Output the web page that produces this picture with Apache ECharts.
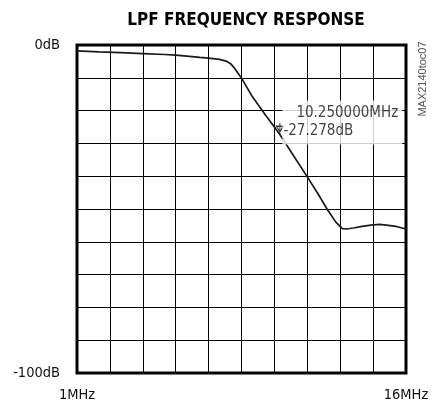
<!DOCTYPE html>
<html>
<head>
	<meta charset="UTF-8">
	<title>LPF FREQUENCY RESPONSE</title>
	<script type="text/javascript" src="https://cdn.jsdelivr.net/npm/echarts@6/dist/echarts.min.js"></script>
	<style>
		html, body { margin: 0; padding: 0; background: #fff; }
		#chart { width: 432px; height: 405px; }
	</style>
</head>
<body>
<div id="chart"></div>
<script>
// 频率 (MHz) 和增益 (dB)
var freqMHz = [1.0, 2.0, 3.0, 4.0, 5.0, 5.5, 6.0, 6.6, 7.0, 7.5, 7.8, 8.0, 8.15, 8.3, 8.5,
	9.0, 9.6, 10.25, 10.8, 11.5, 12.0, 12.4, 12.8, 13.1, 13.3, 13.6, 14.0, 14.4, 14.8, 15.2, 15.6, 16.0];
var gainDb = [-1.8, -2.1, -2.3, -2.6, -2.9, -3.1, -3.4, -3.8, -4.0, -4.4, -4.9, -5.7, -6.8, -8.2, -10.1,
	-15.8, -21.4, -27.3, -33.0, -40.2, -45.5, -50.0, -54.0, -56.0, -56.1, -55.8, -55.3, -54.9, -54.7, -55.0, -55.4, -56.1];
var markerFreq = 10.25;
var markerDb = -27.278;
var xTickLabels = {1: '1MHz', 16: '16MHz'};
var yTickLabels = {0: '0dB', '-100': '-100dB'};

var narrow = "'Liberation Sans Narrow', 'Arial Narrow', 'DejaVu Sans Condensed', sans-serif";

var lineData = [];
for (var i = 0; i < freqMHz.length; i++) {
	lineData.push([freqMHz[i], gainDb[i]]);
}

var myChart = echarts.init(document.getElementById('chart'));
var option = {
	animation: false,
	title: {
		text: 'LPF FREQUENCY RESPONSE',
		left: 241,
		top: 7,
		textAlign: 'center',
		textStyle: {
			fontFamily: narrow,
			fontWeight: 'bold',
			fontSize: 17,
			color: '#000'
		}
	},
	grid: {
		left: 77,
		right: 26,
		top: 45,
		bottom: 32,
		show: true,
		borderColor: '#000',
		borderWidth: 3
	},
	xAxis: {
		type: 'value',
		min: 1,
		max: 16,
		interval: 1.5,
		axisLine: {show: false},
		axisTick: {show: false},
		splitLine: {lineStyle: {color: '#000', width: 1}},
		axisLabel: {
			margin: 15,
			fontFamily: narrow,
			fontSize: 14.5,
			color: '#111',
			showMinLabel: true,
			showMaxLabel: true,
			formatter: function (v) {
				return xTickLabels[Math.round(v * 100) / 100] || '';
			}
		}
	},
	yAxis: {
		type: 'value',
		min: -100,
		max: 0,
		interval: 10,
		axisLine: {show: false},
		axisTick: {show: false},
		splitLine: {lineStyle: {color: '#000', width: 1}},
		axisLabel: {
			margin: 17,
			fontFamily: narrow,
			fontSize: 14.5,
			color: '#111',
			formatter: function (v) {
				return yTickLabels[v] || '';
			}
		}
	},
	graphic: [{
		type: 'text',
		x: 423,
		y: 79,
		rotation: Math.PI / 2,
		style: {
			text: 'MAX2140toc07',
			fontFamily: "'Liberation Sans', Arial, sans-serif",
			fontSize: 11,
			fill: '#555',
			align: 'center',
			verticalAlign: 'middle'
		}
	}],
	series: [
		{
			name: 'response',
			type: 'line',
			data: lineData,
			showSymbol: false,
			lineStyle: {color: '#1a1a1a', width: 1.7},
			z: 3
		},
		{
			name: 'marker',
			type: 'scatter',
			data: [[markerFreq, markerDb]],
			symbol: 'path://M3,0 L3,10 M0,3 L6,3 L3,8 Z',
			symbolSize: [7, 11],
			symbolOffset: [0, -6],
			itemStyle: {color: 'none', borderColor: '#000', borderWidth: 1.2},
			z: 4,
			label: {
				show: true,
				position: 'right',
				distance: 0,
				offset: [-3, -6],
				backgroundColor: '#fff',
				padding: [4, 4, 4, 1],
				formatter: function () {
					return '{a|' + markerFreq.toFixed(6) + 'MHz}\n{b|' + markerDb.toFixed(3) + 'dB}';
				},
				rich: {
					a: {fontFamily: narrow, fontSize: 15, lineHeight: 18, color: '#111', padding: [0, 0, 0, 13]},
					b: {fontFamily: narrow, fontSize: 15, lineHeight: 18, color: '#111'}
				}
			}
		}
	]
};
myChart.setOption(option);
</script>
</body>
</html>
